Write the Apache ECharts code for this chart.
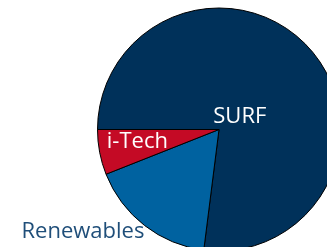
<!DOCTYPE html>
<html>
<head>
<meta charset="utf-8">
<script src="https://cdn.jsdelivr.net/npm/echarts@6/dist/echarts.min.js"></script>
<style>
  html, body { margin: 0; padding: 0; background: #fff; }
  #chart { width: 327px; height: 247px; }
</style>
</head>
<body>
<div id="chart"></div>
<script>
const categories = ["SURF", "Renewables", "i-Tech"];
const values = [77, 17, 6];
const colors = ["#00315A", "#0062A0", "#C40A25"];

// per-slice label tweaks (colour + nudge from default spot)
const labelColors = ["#ffffff", "#1F4E79", "#ffffff"];
const labelOffsets = [[-27, 29], [-97, 51.5], [-19, 0]];

const chart = echarts.init(document.getElementById("chart"));

chart.setOption({
  animation: false,
  backgroundColor: "#fff",
  series: [
    {
      type: "pie",
      center: [219, 129.5],
      radius: 121.5,
      startAngle: 180,
      clockwise: true,
      avoidLabelOverlap: false,
      itemStyle: { borderColor: "#000", borderWidth: 1 },
      label: {
        show: true,
        position: "inside",
        formatter: "{b}",
        fontFamily: "Open Sans",
        fontSize: 22,
      },
      labelLine: { show: false },
      emphasis: { disabled: true },
      data: categories.map((name, i) => ({
        name: name,
        value: values[i],
        itemStyle: { color: colors[i] },
        label: { color: labelColors[i], offset: labelOffsets[i] },
      })),
    },
  ],
});
</script>
</body>
</html>
